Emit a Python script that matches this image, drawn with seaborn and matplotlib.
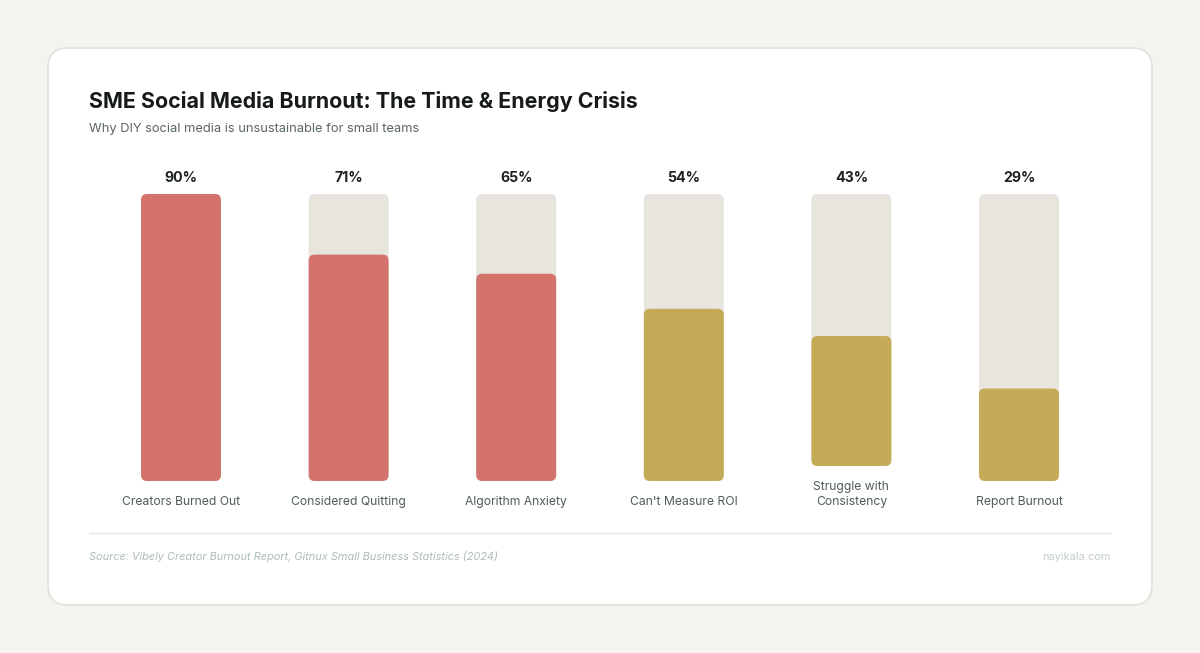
import numpy as np
import pandas as pd
import seaborn as sns
import matplotlib.pyplot as plt
from matplotlib.patches import FancyBboxPatch
from matplotlib.lines import Line2D
from matplotlib.transforms import IdentityTransform

# data
categories = ["Creators Burned Out", "Considered Quitting", "Algorithm Anxiety",
              "Can't Measure ROI", "Struggle with\nConsistency", "Report Burnout"]
values = [90, 71, 65, 54, 43, 29]
value_labels = ["90%", "71%", "65%", "54%", "43%", "29%"]
bar_colors = ["#D4736C", "#D4736C", "#D4736C", "#C5AA58", "#C5AA58", "#C5AA58"]

title = "SME Social Media Burnout: The Time & Energy Crisis"
subtitle = "Why DIY social media is unsustainable for small teams"
source = "Source: Vibely Creator Burnout Report, Gitnux Small Business Statistics (2024)"
brand = "nayikala.com"

W, H = 1200, 653
sns.set_theme(style="white")
plt.rcParams['font.family'] = ['Inter', 'DejaVu Sans']

fig = plt.figure(figsize=(W / 100, H / 100), dpi=100)
fig.patch.set_facecolor("#F4F3EF")

def fy(py):
    # pixel from top -> figure fraction
    return 1 - py / H

# card
card = FancyBboxPatch((48, H - 605), 1104, 557, boxstyle="round,pad=0,rounding_size=20",
                      transform=IdentityTransform(), fc="white", ec="#E0DED7", lw=1.1, zorder=0)
fig.add_artist(card)

df = pd.DataFrame({"category": categories, "value": values,
                   "track": [max(values)] * len(values)})

# bar area: track spans 194px..481px
ax = fig.add_axes([97.2 / W, fy(481), 1005.6 / W, (481 - 194) / H])
ax.set_facecolor("none")
sns.barplot(data=df, x="category", y="track", color="#E8E5DF", width=0.477,
            ax=ax, saturation=1)
sns.barplot(data=df, x="category", y="value", hue="category", palette=bar_colors,
            width=0.477, ax=ax, saturation=1, legend=False)
ax.set_xlim(-0.5, len(categories) - 0.5)
ax.set_ylim(0, max(values))
ax.set_axis_off()

# swap rectangles for rounded ones (pixel space); two-line labels lift the bar
track_h = 481 - 194
for p in list(ax.patches):
    x0, y0 = ax.transData.transform((p.get_x(), p.get_y()))
    x1, y1 = ax.transData.transform((p.get_x() + p.get_width(), p.get_y() + p.get_height()))
    idx = int(round(p.get_x() + p.get_width() / 2))
    lift = 15 * categories[idx].count("\n")
    scale = (track_h - lift) / track_h
    h = (y1 - y0) * scale
    rb = FancyBboxPatch((x0, y0 + lift), x1 - x0, h, boxstyle="round,pad=0,rounding_size=6",
                        transform=IdentityTransform(), fc=p.get_facecolor(), ec="none",
                        zorder=2 if p.get_facecolor()[0] < 0.9 else 1)
    fig.add_artist(rb)
    p.set_visible(False)

for i, (cat, lab) in enumerate(zip(categories, value_labels)):
    cx = ax.transData.transform((i, 0))[0] / W
    fig.text(cx, fy(178), lab, ha="center", va="center", fontsize=10.2,
             fontweight="bold", color="#1C2220")
    fig.text(cx, fy(508), cat, ha="center", va="bottom", fontsize=8.75,
             color="#4E5E58", linespacing=1.32)

fig.text(89 / W, fy(102), title, ha="left", va="center", fontsize=15.4,
         fontweight="bold", color="#161B19")
fig.text(89 / W, fy(129), subtitle, ha="left", va="center", fontsize=9.3,
         color="#5B6762")

fig.add_artist(Line2D([89 / W, 1111 / W], [fy(533), fy(533)], color="#E6E5E1", lw=1))
fig.text(89 / W, fy(557), source, ha="left", va="center", fontsize=7.9,
         style="italic", color="#AEBDB5")
fig.text(1111 / W, fy(557), brand, ha="right", va="center", fontsize=7.9,
         color="#C3CEC8")

fig.savefig("out.png", dpi=100, facecolor=fig.get_facecolor())
